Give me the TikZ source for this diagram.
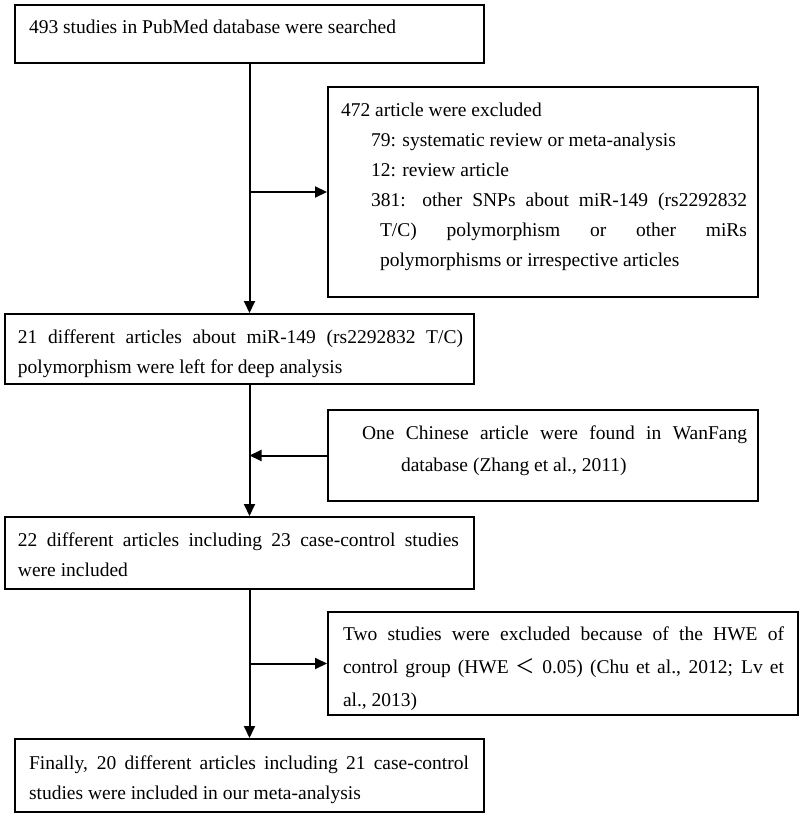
\documentclass[tikz,border=0pt]{standalone}
\usepackage{fontspec}
\setmainfont{Liberation Serif}
\newfontfamily\cjk{Noto Sans CJK SC}
\usetikzlibrary{arrows.meta}
\newcommand\boxbody[3]{% width, height, content
  \parbox[t][#2pt][t]{#1pt}{\parindent=0pt\tolerance=10000\hbadness=10000\hyphenpenalty=10000\exhyphenpenalty=10000 #3}}
\newcommand\fb[1][29pt]{\rule{0pt}{#1}}
\tikzset{
  bx/.style={draw, line width=2pt, inner sep=0pt, anchor=north west,
    font=\fontsize{19.5pt}{30pt}\selectfont},
  arr/.style={line width=2pt, -{Triangle[length=12pt,width=11pt]}}
}
\begin{document}
\begin{tikzpicture}[x=1pt,y=-1pt]
\useasboundingbox (0,0) rectangle (800,816);
\node[bx] (b1) at (14,4) {\boxbody{469}{58}{\leftskip=14pt\rightskip=10pt\fb 493 studies in PubMed database were searched}};
\node[bx] (b2) at (327,86) {\boxbody{430}{210}{\leftskip=13pt\rightskip=11pt\fb 472 article were excluded\par
\leftskip=43pt 79: systematic review or meta-analysis\par
12: review article\par
\leftskip=52pt\parindent=-9pt 381: other SNPs about miR-149 (rs2292832\linebreak T/C) polymorphism or other miRs\linebreak polymorphisms or irrespective articles\par}};
\node[bx] (b3) at (4,313) {\boxbody{469}{70}{\leftskip=13pt\rightskip=11pt\fb 21 different articles about miR-149 (rs2292832 T/C)\linebreak polymorphism were left for deep analysis\par}};
\node[bx] (b4) at (327,409) {\boxbody{430}{91}{\baselineskip=32pt\leftskip=73pt\rightskip=11pt\parindent=-39pt One Chinese article were found in WanFang\fb\linebreak database (Zhang et al., 2011)\par}};
\node[bx] (b5) at (4,516) {\boxbody{469}{72}{\leftskip=13pt\rightskip=15pt\fb 22 different articles including 23 case-control studies\linebreak were included\par}};
\node[bx] (b6) at (327,611) {\boxbody{470}{103}{\baselineskip=33pt\leftskip=15pt\rightskip=14pt\fb[28pt]Two studies were excluded because of the HWE of\linebreak control group (HWE {\cjk ＜} 0.05) (Chu et al., 2012; Lv et\linebreak al., 2013)\par}};
\node[bx] (b7) at (14,738) {\boxbody{469}{73}{\leftskip=14pt\rightskip=15pt\fb[30pt]Finally, 20 different articles including 21 case-control\linebreak studies were included in our meta-analysis\par}};
\coordinate (j1) at (b1.south |- b2.west);
\coordinate (j2) at (b1.south |- b4.west);
\coordinate (j3) at (b1.south |- b6.west);
\draw[arr] (b1.south) -- (b1.south |- b3.north);
\draw[arr] (j1) -- (b2.west);
\draw[arr] (b3.south -| b1.south) -- (b1.south |- b5.north);
\draw[arr] (b4.west) -- (j2);
\draw[arr] (b5.south -| b1.south) -- (b7.north);
\draw[arr] (j3) -- (b6.west);
\end{tikzpicture}
\end{document}
